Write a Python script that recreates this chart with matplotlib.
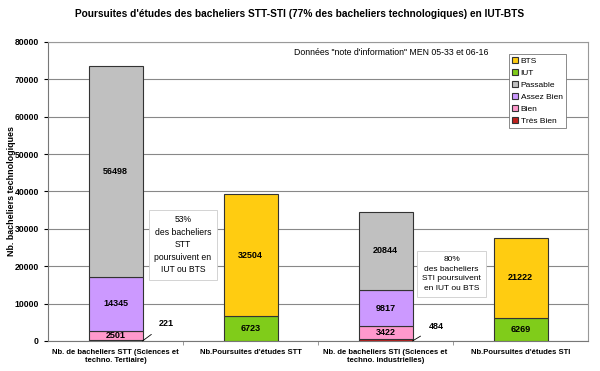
import numpy as np
import matplotlib
matplotlib.use('Agg')
import matplotlib.pyplot as plt

plt.rcParams['font.family'] = ['Liberation Sans', 'DejaVu Sans']

# données
categories = ["Nb. de bacheliers STT (Sciences et\ntechno. Tertiaire)",
              "Nb.Poursuites d'études STT",
              "Nb. de bacheliers STI (Sciences et\ntechno. industrielles)",
              "Nb.Poursuites d'études STI"]
tres_bien = [221, 0, 484, 0]
bien = [2501, 0, 3422, 0]
assez_bien = [14345, 0, 9817, 0]
passable = [56498, 0, 20844, 0]
iut = [0, 6723, 0, 6269]
bts = [0, 32504, 0, 21222]

series = [('Très Bien', tres_bien, '#C0221E'),
          ('Bien', bien, '#FF99CC'),
          ('Assez Bien', assez_bien, '#CC99FF'),
          ('Passable', passable, '#C0C0C0'),
          ('IUT', iut, '#80CC1A'),
          ('BTS', bts, '#FFCC11')]

fig = plt.figure(figsize=(6, 3.71), dpi=100)
ax = fig.add_axes([0.08, 0.081, 0.9, 0.806])

x = np.arange(len(categories))
bottom = np.zeros(len(categories))
handles = {}
for name, vals, col in series:
    vals = np.array(vals, dtype=float)
    m = vals > 0
    b = ax.bar(x[m], vals[m], 0.4, bottom=bottom[m], color=col,
               edgecolor='#333333', linewidth=0.8, label=name, zorder=3)
    handles[name] = b
    for xi, v, b0 in zip(x[m], vals[m], bottom[m]):
        if v > 1000:
            ax.text(xi, b0 + v / 2, str(int(v)), ha='center', va='center',
                    fontsize=6.5, fontweight='bold', zorder=4)
    bottom = bottom + vals

# petites valeurs annotées
ax.annotate('221', xy=(0.2, 0), xytext=(0.38, 4800), fontsize=6.5,
            fontweight='bold', ha='center', va='center',
            arrowprops=dict(arrowstyle='-', color='black', lw=0.6,
                            shrinkB=0, shrinkA=5))
ax.annotate('484', xy=(2.2, 0), xytext=(2.38, 3900), fontsize=6.5,
            fontweight='bold', ha='center', va='center',
            arrowprops=dict(arrowstyle='-', color='black', lw=0.6,
                            shrinkB=0, shrinkA=5))

ax.set_xlim(-0.5, 3.5)
ax.set_ylim(0, 80000)
ax.set_yticks(np.arange(0, 80001, 10000))
ax.yaxis.grid(True, color='#888888', linewidth=0.8, zorder=0)
ax.set_axisbelow(True)
ax.set_xticks(x)
ax.set_xticklabels(categories, fontsize=5.5, fontweight='bold')
ax.tick_params(axis='x', length=0, pad=6)
ax.set_xticks([0.5, 1.5, 2.5], minor=True)
ax.tick_params(axis='x', which='minor', length=3, color='#888888')
ax.tick_params(axis='y', labelsize=6.2, length=3)
for lab in ax.get_yticklabels():
    lab.set_fontweight('bold')
for s in ['top', 'right']:
    ax.spines[s].set_color('#999999')
ax.spines['left'].set_color('#777777')
ax.spines['bottom'].set_color('#777777')

ax.set_ylabel('Nb. bacheliers technologiques', fontsize=6.4, fontweight='bold')
ax.yaxis.set_label_coords(-0.06, 0.5)
fig.suptitle("Poursuites d'études des bacheliers STT-STI (77% des bacheliers technologiques) en IUT-BTS",
             fontsize=7.3, fontweight='bold', y=0.975)

ax.text(2.04, 77200, 'Données "note d\'information" MEN 05-33 et 06-16',
        fontsize=6.3, ha='center', va='center')

box = dict(boxstyle='square,pad=0.6', facecolor='white', edgecolor='#CCCCCC', linewidth=0.6)
ax.text(0.5, 25700, '53%\ndes bacheliers\nSTT\npoursuivent en\nIUT ou BTS',
        fontsize=6.2, ha='center', va='center', bbox=box, zorder=5, linespacing=1.5)
ax.text(2.49, 17900, '80%\ndes bacheliers\nSTI poursuivent\nen IUT ou BTS',
        fontsize=6.0, ha='center', va='center', bbox=box, zorder=5, linespacing=1.55)

order = ['BTS', 'IUT', 'Passable', 'Assez Bien', 'Bien', 'Très Bien']
leg = ax.legend([handles[n] for n in order], order, loc='upper right',
                bbox_to_anchor=(0.967, 0.975), fontsize=6.0, handlelength=0.7,
                handleheight=0.7, handletextpad=0.3, labelspacing=0.5,
                borderpad=0.4, fancybox=False, framealpha=1,
                edgecolor='#777777')
leg.get_frame().set_linewidth(0.6)

fig.savefig('out.png', dpi=100)
